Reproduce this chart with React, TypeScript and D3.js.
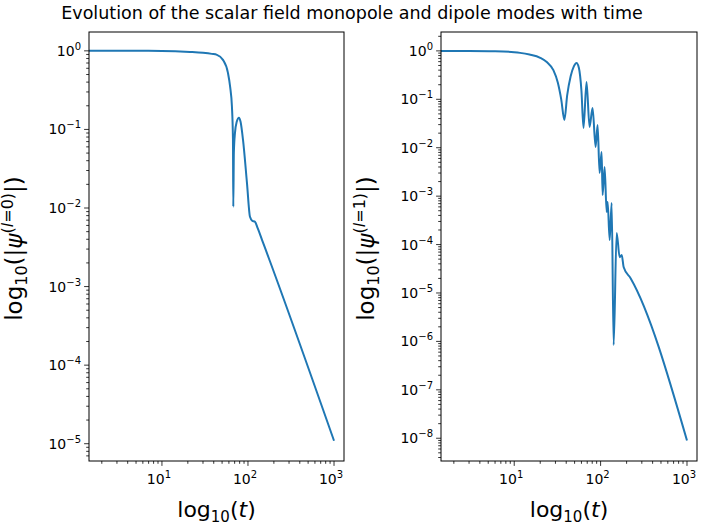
import * as d3 from "d3";

const leftT = [1.42, 5, 10, 21.2, 30, 38, 43.6, 51.2, 58.5, 62, 65.1, 66.9, 67.5, 68.5, 70.6, 74, 78.5, 82, 87.5, 97.3, 105.5, 112, 120.6, 130, 145.5, 180, 1000];
const leftV = [1, 1, 0.998, 0.97, 0.945, 0.915, 0.889, 0.768, 0.525, 0.35, 0.194, 0.074, 0.0104, 0.05, 0.0905, 0.125, 0.141, 0.125, 0.074, 0.0209, 0.00772, 0.0069, 0.00668, 0.0055, 0.00394, 0.0021, 1.09e-5];

const rightT = [1.42, 3, 6, 10, 11.7, 15, 20, 24, 28.4, 32, 35, 38.1, 41, 45, 49, 52.6, 56, 60, 63.4, 68.7, 74.5, 80.7, 87.5, 92.3, 97.3, 102.7, 105.5, 111.3, 117.5, 120.6, 127.3, 134.3, 141.6, 153.4, 166.2, 175.4, 185.1, 223.2, 1000];
const rightV = [1, 0.998, 0.985, 0.94, 0.91, 0.84, 0.72, 0.58, 0.4, 0.22, 0.1, 0.0375, 0.12, 0.3, 0.48, 0.565, 0.45, 0.15, 0.0256, 0.229, 0.0269, 0.0664, 0.0104, 0.0296, 0.00301, 0.00819, 0.00106, 0.00401, 0.000472, 0.000759, 0.000124, 0.000724, 8.4e-7, 0.000174, 5.5e-5, 6.1e-5, 3.4e-5, 2.0e-5, 9e-9];

const xTicks = [1, 2, 3];
const leftYTicks = [0, -1, -2, -3, -4, -5];
const rightYTicks = [0, -1, -2, -3, -4, -5, -6, -7, -8];

const FONT = "DejaVu Sans, sans-serif";
const TOP = 32;
const BOTTOM = 461;

type PanelProps = {
  x0: number; x1: number;
  ts: number[]; vs: number[];
  yDomain: [number, number];
  yTicks: number[];
  mode: string;
};

function Panel({ x0, x1, ts, vs, yDomain, yTicks, mode }: PanelProps) {
  const x = d3.scaleLog().domain([1.42, 1306]).range([x0, x1]);
  const y = d3.scaleLog().domain(yDomain).range([BOTTOM, TOP]);
  const line = d3.line<number>().x((_, i) => x(ts[i])).y((v) => y(v)).curve(d3.curveMonotoneX);
  const minorX: number[] = [];
  for (let e = 0; e <= 3; e++) for (let k = 2; k <= 9; k++) {
    const v = k * 10 ** e;
    if (v >= 1.42 && v <= 1306) minorX.push(v);
  }
  const minorY: number[] = [];
  for (let e = -9; e <= 0; e++) for (let k = 2; k <= 9; k++) {
    const v = k * 10 ** e;
    if (v >= yDomain[0] && v <= yDomain[1]) minorY.push(v);
  }
  const cx = (x0 + x1) / 2;
  return (
    <g fontFamily={FONT}>
      <path d={line(vs) || ""} fill="none" stroke="#1f77b4" strokeWidth={2} />
      <rect x={x0} y={TOP} width={x1 - x0} height={BOTTOM - TOP} fill="none" stroke="#000" strokeWidth={1} />
      {minorX.map((v) => (
        <line key={"mx" + v} x1={x(v)} x2={x(v)} y1={BOTTOM} y2={BOTTOM + 2.8} stroke="#000" strokeWidth={0.8} />
      ))}
      {minorY.map((v) => (
        <line key={"my" + v} x1={x0} x2={x0 - 2.8} y1={y(v)} y2={y(v)} stroke="#000" strokeWidth={0.8} />
      ))}
      {xTicks.map((e) => (
        <g key={"x" + e}>
          <line x1={x(10 ** e)} x2={x(10 ** e)} y1={BOTTOM} y2={BOTTOM + 4.9} stroke="#000" strokeWidth={0.8} />
          <text x={x(10 ** e) - 3} y={BOTTOM + 23} textAnchor="middle" fontSize={14}>
            10<tspan dy={-6} fontSize={10}>{e}</tspan>
          </text>
        </g>
      ))}
      {yTicks.map((e) => (
        <g key={"y" + e}>
          <line x1={x0} x2={x0 - 4.9} y1={y(10 ** e)} y2={y(10 ** e)} stroke="#000" strokeWidth={0.8} />
          <text x={x0 - 8} y={y(10 ** e) + 5} textAnchor="end" fontSize={14}>
            10<tspan dy={-6} fontSize={10}>{e < 0 ? "\u2212" + -e : e}</tspan>
          </text>
        </g>
      ))}
      <text x={cx} y={517} textAnchor="middle" fontSize={22}>
        log<tspan dy={5} fontSize={15}>10</tspan><tspan dy={-5}>(</tspan><tspan fontStyle="italic">t</tspan>)
      </text>
      <text transform={`translate(${x0 - 67},${(TOP + BOTTOM) / 2 + 2}) rotate(-90)`} textAnchor="middle" fontSize={23}>
        log<tspan dy={5} fontSize={16}>10</tspan><tspan dy={-5}>(|</tspan><tspan fontStyle="italic">ψ</tspan>
        <tspan dy={-9} fontSize={16}>(<tspan fontStyle="italic">l</tspan>{"=" + mode + ")"}</tspan>
        <tspan dy={9}>|)</tspan>
      </text>
    </g>
  );
}

export default function App() {
  return (
    <svg width={704} height={528} style={{ position: "absolute", left: 0, top: 0, background: "#fff" }}>
      <rect width={704} height={528} fill="#fff" />
      <text x={352} y={19} textAnchor="middle" fontSize={17.5} fontFamily={FONT}>
        Evolution of the scalar field monopole and dipole modes with time
      </text>
      <Panel x0={89} x1={344} ts={leftT} vs={leftV} yDomain={[10 ** -5.22, 10 ** 0.24]} yTicks={leftYTicks} mode="0" />
      <Panel x0={441} x1={697} ts={rightT} vs={rightV} yDomain={[10 ** -8.47, 10 ** 0.39]} yTicks={rightYTicks} mode="1" />
    </svg>
  );
}
